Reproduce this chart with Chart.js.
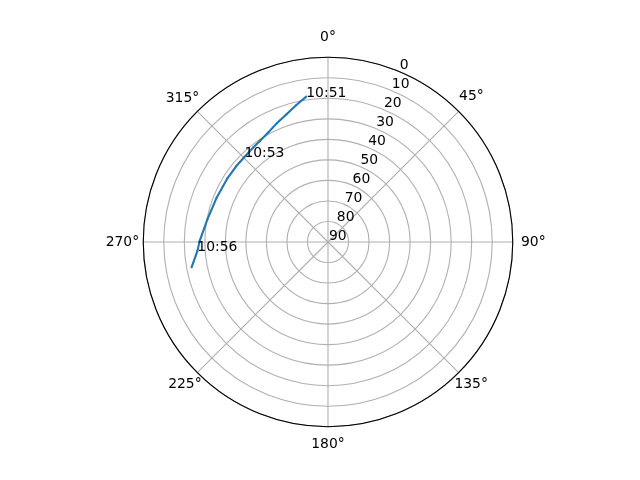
<!DOCTYPE html>
<html>
<head>
<meta charset="utf-8">
<script src="https://cdn.jsdelivr.net/npm/chart.js@4.4.0/dist/chart.umd.min.js"></script>
<style>
    body { margin: 0; background: #fff; }
</style>
</head>
<body>
<canvas id="sky" width="640" height="480"></canvas>
<script>
// pass track: azimuth (deg, clockwise from north), elevation (deg)
const azimuth = [351.5, 347, 342, 336.5, 331.5, 326, 321.5, 315.5, 309.5, 302.5, 291.5, 280.5, 270.5, 266, 259.5];
const elevation = [18.4, 21.5, 24.6, 27.1, 29.2, 30.6, 31.3, 31.9, 32.0, 32.0, 31.6, 30.2, 27.5, 26.2, 22.4];

// time stamps written along the track, at these azimuths
const timeLabels = ['10:51', '10:53', '10:56'];
const timeAzimuth = [351.5, 315.5, 266];

const angleTicks = [0, 45, 90, 135, 180, 225, 270, 315];
const elevationTicks = [0, 10, 20, 30, 40, 50, 60, 70, 80, 90];
const rLabelAngle = 22.5;

// one radar spoke every half degree so the track lands where it should
const step = 0.5;
const spokes = Array.from({ length: 360 / step }, (_, i) => i * step);

// Chart.js puts the label corner at the spoke end, matplotlib centres it,
// so each angle label gets its own padding / line height to land in place
const labelPad = { 0: 9.4, 45: 0.6, 90: 8.2, 135: -6, 180: 7.5, 225: -6, 270: 4.1, 315: -2.6 };
const labelLead = { 0: 1.5, 45: 2.06, 90: 1.5, 135: 2.36, 180: 1.5, 225: 2.36, 270: 1.5, 315: 2.16 };

// radar closes every line on itself, so the track goes in as two-point pieces
const pieces = [];
for (let k = 0; k < azimuth.length - 1; k++) {
    const data = spokes.map(() => null);
    data[spokes.indexOf(azimuth[k])] = elevation[k];
    data[spokes.indexOf(azimuth[k + 1])] = elevation[k + 1];
    pieces.push({
        data: data,
        borderColor: '#1f77b4',
        borderWidth: 2.1,
        borderCapStyle: 'round',
        borderJoinStyle: 'round',
        pointRadius: 0,
        fill: false,
        spanGaps: true,
    });
}

const skyExtras = {
    id: 'skyExtras',
    afterDatasetsDraw(chart) {
        const r = chart.scales.r;
        const ctx = chart.ctx;
        ctx.save();

        // black rim at elevation 0
        ctx.beginPath();
        ctx.arc(r.xCenter, r.yCenter, r.getDistanceFromCenterForValue(0), 0, Math.PI * 2);
        ctx.strokeStyle = '#000';
        ctx.lineWidth = 1.1;
        ctx.stroke();

        ctx.fillStyle = '#000';
        ctx.font = '13.9px "DejaVu Sans"';
        ctx.textAlign = 'left';
        ctx.textBaseline = 'alphabetic';

        // elevation labels sit on the 22.5 deg spoke, unrotated
        elevationTicks.forEach((v) => {
            const p = r.getPointPositionForValue(rLabelAngle / step, v);
            ctx.fillText(String(v), p.x + 1, p.y - 2.5);
        });

        timeLabels.forEach((t, j) => {
            const k = azimuth.indexOf(timeAzimuth[j]);
            const p = r.getPointPositionForValue(spokes.indexOf(azimuth[k]), elevation[k]);
            ctx.fillText(t, p.x, p.y);
        });

        ctx.restore();
    },
};

new Chart(document.getElementById('sky'), {
    type: 'radar',
    data: {
        labels: spokes,
        datasets: pieces,
    },
    options: {
        responsive: false,
        animation: false,
        layout: { padding: { left: 16, right: 0, top: 27, bottom: 23 } },
        plugins: {
            legend: { display: false },
            tooltip: { enabled: false },
        },
        scales: {
            r: {
                min: 0,
                max: 90,
                reverse: true,
                startAngle: 0,
                ticks: { display: false, stepSize: 10 },
                grid: { circular: true, color: '#b0b0b0', lineWidth: 1.1 },
                angleLines: {
                    color: '#b0b0b0',
                    lineWidth: (c) => (angleTicks.includes(spokes[c.index]) ? 1.1 : 0),
                },
                pointLabels: {
                    color: '#000',
                    callback: (label) => (angleTicks.includes(label) ? label + '°' : ''),
                    font: (c) => ({
                        family: 'DejaVu Sans',
                        size: 13.9,
                        lineHeight: labelLead[spokes[c.index]] || 1.5,
                    }),
                    padding: (c) => {
                        const a = spokes[c.index];
                        return a in labelPad ? labelPad[a] : -100;
                    },
                },
            },
        },
    },
    plugins: [skyExtras],
});
</script>
</body>
</html>
